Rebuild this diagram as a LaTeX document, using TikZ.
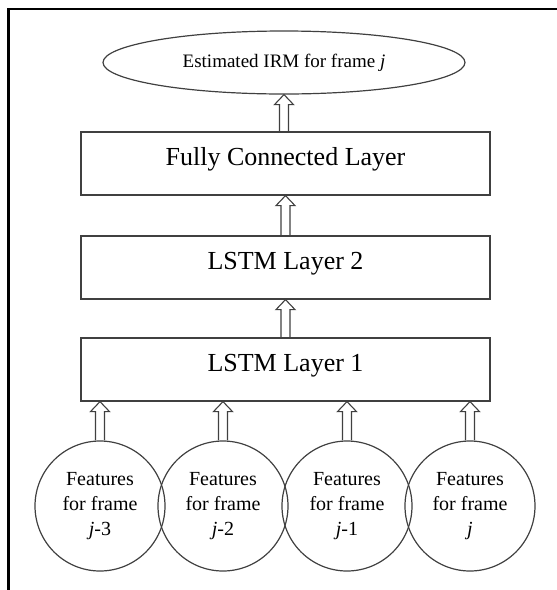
\documentclass[tikz,border=0pt]{standalone}
\usepackage{fontspec}
\setmainfont{Liberation Serif}
\usetikzlibrary{shapes.geometric,calc}

% hollow block arrow pointing up, from #1 (bottom) to #2 (top)
\newcommand{\hollowup}[2]{%
  \draw[hollow] let \p1=(#1), \p2=(#2) in
    (\x1-4.5pt,\y1) -- (\x1-4.5pt,\y2-10pt) -- (\x1-9.5pt,\y2-10pt) -- (\x1,\y2)
    -- (\x1+9.5pt,\y2-10pt) -- (\x1+4.5pt,\y2-10pt) -- (\x1+4.5pt,\y1);}

\begin{document}
\begin{tikzpicture}[x=1pt, y=-1pt,
  layerbox/.style={draw=black!75, line width=1.2pt, minimum width=409pt, inner ysep=0pt,
    text height=33.5pt, text depth=29.5pt, font=\fontsize{26}{30}\selectfont},
  featcircle/.style={shape=circle, draw=black!75, line width=1.2pt, minimum size=130pt,
    inner sep=0pt, align=center, font=\fontsize{20}{25}\selectfont},
  hollow/.style={draw=black!75, line width=1.1pt, line join=miter}]
\useasboundingbox (0,0) rectangle (557,590);

% frame
\draw[line width=2.6pt] (8.5,590) -- (8.5,9) -- (557,9);

\node[shape=ellipse, draw=black!75, line width=1.2pt, minimum width=362pt, minimum height=63pt,
  inner sep=0pt, font=\fontsize{19}{23}\selectfont] (irm) at (284, 62.5) {Estimated IRM for frame \textit{j}};
\node[layerbox] (fc) at (285.5, 163.5) {Fully Connected Layer};
\node[layerbox] (lstm2) at (285.5, 267.5) {LSTM Layer 2};
\node[layerbox] (lstm1) at (285.5, 369.5) {LSTM Layer 1};

\node[featcircle] (f1) at (100, 506) {Features\\for frame\\\textit{j}-3};
\node[featcircle] (f2) at (223, 506) {Features\\for frame\\\textit{j}-2};
\node[featcircle] (f3) at (347, 506) {Features\\for frame\\\textit{j}-1};
\node[featcircle] (f4) at (470, 506) {Features\\for frame\\\textit{j}};

\hollowup{f1.north}{lstm1.south -| f1.north}
\hollowup{f2.north}{lstm1.south -| f2.north}
\hollowup{f3.north}{lstm1.south -| f3.north}
\hollowup{f4.north}{lstm1.south -| f4.north}
\hollowup{lstm1.north}{lstm2.south}
\hollowup{lstm2.north}{fc.south}
\hollowup{fc.north -| irm.south}{irm.south}
\end{tikzpicture}
\end{document}
